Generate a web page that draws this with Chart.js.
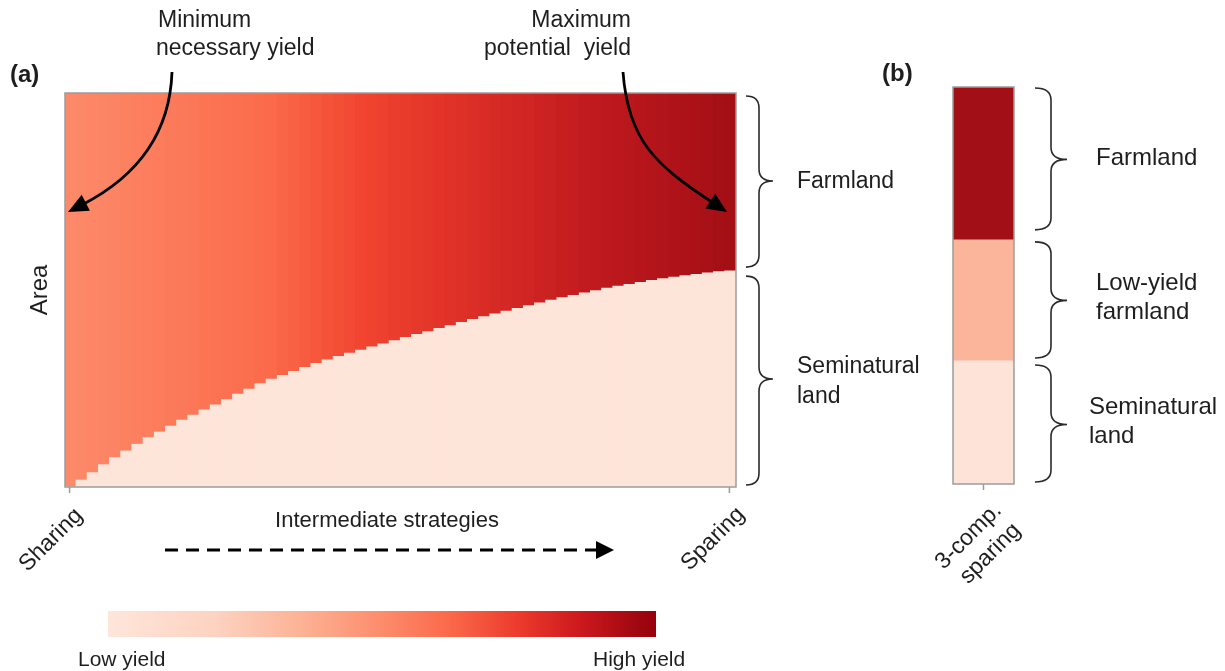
<!DOCTYPE html>
<html><head><meta charset="utf-8">
<script src="https://cdn.jsdelivr.net/npm/chart.js@4/dist/chart.umd.min.js"></script>
<style>
html,body{margin:0;padding:0;background:#fff;}
#wrap{position:relative;width:1225px;height:671px;overflow:hidden;}
canvas{position:absolute;left:0;top:0;}
</style></head><body>
<div id="wrap">
<canvas id="a" width="1225" height="671"></canvas>
<canvas id="b" width="1225" height="671"></canvas>
</div>
<script>
// ---- Data (percent of total area) ----
const seminaturalA = [0, 1.7, 3.6, 5.6, 7.4, 9.1, 10.8, 12.5, 13.9, 15.4, 16.9, 18.2, 19.5, 20.8, 22.1, 23.5, 24.8, 26.2, 27.3, 28.3,
  29.3, 30.3, 31.3, 32.2, 33.1, 33.9, 34.7, 35.5, 36.3, 37.1, 37.9, 38.7, 39.4, 40.2, 40.9, 41.7, 42.5, 43.2, 43.9, 44.6,
  45.3, 46.0, 46.7, 47.4, 48.0, 48.6, 49.2, 49.8, 50.4, 50.9, 51.4, 51.9, 52.4, 52.8, 53.2, 53.6, 53.9, 54.3, 54.6, 54.8];
const strategyLabels = ['Sharing', 'Intermediate strategies', 'Sparing'];
const strategies = seminaturalA.map((_, i) => i === 0 ? strategyLabels[0] : (i === seminaturalA.length - 1 ? strategyLabels[2] : strategyLabels[1] + ' ' + i));
const farmlandA = seminaturalA.map(v => 100 - v);

const panelBLabels = ['3-comp. sparing'];
const seminaturalB = [31];
const lowYieldB = [30.5];
const farmlandB = [38.5];
const colorbarLabels = ['Low yield', 'High yield'];

// ---- Styles ----
const FONT = "'Liberation Sans', Arial, Helvetica, sans-serif";
const TXT = '#1e1e1e';
function hex(c){return [parseInt(c.slice(1,3),16),parseInt(c.slice(3,5),16),parseInt(c.slice(5,7),16)];}
function ramp(stops, t){
  for(let k=0;k<stops.length-1;k++){
    const [t0,c0]=stops[k],[t1,c1]=stops[k+1];
    if(t<=t1||k===stops.length-2){
      const u=Math.max(0,Math.min(1,(t-t0)/(t1-t0)));
      const a=hex(c0),b=hex(c1);
      return 'rgb('+a.map((v,j)=>Math.round(v+(b[j]-v)*u)).join(',')+')';
    }
  }
}
const farmStops=[[0,'#fc8a6a'],[0.3,'#fb6b4b'],[0.45,'#f0432f'],[0.6,'#dd2f27'],[0.8,'#bf191e'],[1,'#a30f15']];
const farmColors = farmlandA.map((_, i) => ramp(farmStops, i/(farmlandA.length-1)));
const barStops=[[0,'#fee6da'],[0.2,'#fdd2c0'],[0.35,'#fcb396'],[0.5,'#fc8c6c'],[0.62,'#fb6a4a'],[0.75,'#ec3a2c'],[0.87,'#c9171d'],[0.97,'#9e0710'],[1,'#99000d']];

function text(ctx, s, x, y, size, opts={}){
  ctx.save();
  ctx.font=(opts.bold?'bold ':'')+size+'px '+FONT;
  ctx.fillStyle=TXT;
  ctx.textAlign=opts.align||'left';
  ctx.textBaseline=opts.base||'middle';
  ctx.translate(x,y);
  if(opts.rot) ctx.rotate(opts.rot);
  ctx.fillText(s,0,0);
  ctx.restore();
}
function brace(ctx, xe, y1, y2, ym, d1=13, d2=27){
  const xm=xe+d1, xt=xe+d2, r=12;
  ctx.save();
  ctx.strokeStyle='#2a2a2a'; ctx.lineWidth=1.6;
  ctx.beginPath();
  ctx.moveTo(xe,y1);
  ctx.quadraticCurveTo(xm,y1,xm,y1+r);
  ctx.lineTo(xm,ym-r);
  ctx.quadraticCurveTo(xm,ym,xt,ym);
  ctx.quadraticCurveTo(xm,ym,xm,ym+r);
  ctx.lineTo(xm,y2-r);
  ctx.quadraticCurveTo(xm,y2,xe,y2);
  ctx.stroke();
  ctx.restore();
}
function curvedArrow(ctx,p0,c1,c2,p3){
  const ang=Math.atan2(p3[1]-c2[1],p3[0]-c2[0]);
  const L=20,W=9;
  const bx=p3[0]-Math.cos(ang)*L*0.8, by=p3[1]-Math.sin(ang)*L*0.8;
  ctx.save();
  ctx.strokeStyle='#000'; ctx.fillStyle='#000'; ctx.lineWidth=2.8;
  ctx.beginPath(); ctx.moveTo(p0[0],p0[1]); ctx.bezierCurveTo(c1[0],c1[1],c2[0],c2[1],bx,by); ctx.stroke();
  ctx.beginPath();
  ctx.moveTo(p3[0],p3[1]);
  ctx.lineTo(p3[0]-Math.cos(ang)*L+Math.sin(ang)*W, p3[1]-Math.sin(ang)*L-Math.cos(ang)*W);
  ctx.lineTo(p3[0]-Math.cos(ang)*L-Math.sin(ang)*W, p3[1]-Math.sin(ang)*L+Math.cos(ang)*W);
  ctx.closePath(); ctx.fill();
  ctx.restore();
}

const annotA = {
  id:'annotA',
  afterDraw(chart){
    const ctx=chart.ctx, ca=chart.chartArea, xs=chart.scales.x, ys=chart.scales.y;
    ctx.save();
    ctx.strokeStyle='#9c9c9c'; ctx.lineWidth=1.5;
    ctx.strokeRect(ca.left, ca.top, ca.right-ca.left, ca.bottom-ca.top);
    [0, strategies.length-1].forEach(i=>{
      const x=xs.getPixelForValue(i)-1;
      ctx.beginPath(); ctx.moveTo(x,ca.bottom); ctx.lineTo(x,ca.bottom+6); ctx.stroke();
    });
    ctx.restore();
    text(ctx,'(a)',10,75,24,{bold:true});
    text(ctx,'Area',40,290,24,{align:'center',rot:-Math.PI/2});
    text(ctx,'Minimum',158,21,23);
    text(ctx,'necessary yield',156,49,23);
    text(ctx,'Maximum',631,21,23,{align:'right'});
    text(ctx,'potential  yield',631,49,23,{align:'right'});
    curvedArrow(ctx,[172,72],[170,130],[140,175],[68,212]);
    curvedArrow(ctx,[623,72],[628,140],[655,165],[727,212]);
    const last=seminaturalA.length-1;
    const yb=ys.getPixelForValue(seminaturalA[last]);
    brace(ctx,746,ca.top+3,yb-4,(ca.top+yb)/2-1);
    brace(ctx,746,yb+5,ca.bottom-2,(yb+ca.bottom)/2);
    text(ctx,'Farmland',797,182,23);
    text(ctx,'Seminatural',797,367,23);
    text(ctx,'land',797,397,23);
    text(ctx,'Sharing',79,512,23,{align:'right',rot:-Math.PI/4});
    text(ctx,'Sparing',741,511,23,{align:'right',rot:-Math.PI/4});
    text(ctx,'Intermediate strategies',387,521,22,{align:'center'});
    ctx.save();
    ctx.strokeStyle='#000'; ctx.fillStyle='#000'; ctx.lineWidth=3;
    ctx.setLineDash([13,8]);
    ctx.beginPath(); ctx.moveTo(165,550); ctx.lineTo(596,550); ctx.stroke();
    ctx.setLineDash([]);
    ctx.beginPath(); ctx.moveTo(596,541); ctx.lineTo(614,550); ctx.lineTo(596,559); ctx.closePath(); ctx.fill();
    ctx.restore();
    ctx.save();
    const g=ctx.createLinearGradient(108,0,656,0);
    barStops.forEach(([t,c])=>g.addColorStop(t,c));
    ctx.fillStyle=g; ctx.fillRect(108,611,548,26);
    ctx.restore();
    text(ctx,colorbarLabels[0],78,660,21);
    text(ctx,colorbarLabels[1],593,660,21);
  }
};

new Chart(document.getElementById('a'), {
  type:'bar',
  data:{labels:strategies, datasets:[
    {label:'Seminatural land', data:seminaturalA, backgroundColor:'#fee5d9', borderWidth:0, inflateAmount:0.6},
    {label:'Farmland', data:farmlandA, backgroundColor:farmColors, borderWidth:0, inflateAmount:0.6}
  ]},
  options:{
    responsive:false, animation:false, devicePixelRatio:1,
    layout:{padding:{left:65, top:93, right:489, bottom:184}},
    plugins:{legend:{display:false}, tooltip:{enabled:false}},
    datasets:{bar:{categoryPercentage:1, barPercentage:1}},
    scales:{
      x:{stacked:true, display:false},
      y:{stacked:true, display:false, min:0, max:100}
    }
  },
  plugins:[annotA]
});

const annotB = {
  id:'annotB',
  afterDraw(chart){
    const ctx=chart.ctx, ca=chart.chartArea, xs=chart.scales.x, ys=chart.scales.y;
    ctx.save();
    ctx.strokeStyle='#9c9c9c'; ctx.lineWidth=1.5;
    ctx.strokeRect(ca.left, ca.top, ca.right-ca.left, ca.bottom-ca.top);
    const x=xs.getPixelForValue(0);
    ctx.beginPath(); ctx.moveTo(x,ca.bottom); ctx.lineTo(x,ca.bottom+6); ctx.stroke();
    ctx.restore();
    text(ctx,'(b)',882,74,24,{bold:true});
    const y1=ys.getPixelForValue(seminaturalB[0]);
    const y2=ys.getPixelForValue(seminaturalB[0]+lowYieldB[0]);
    brace(ctx,1035,ca.top+1,y2-10,(ca.top+y2)/2-4,16,32);
    brace(ctx,1035,y2+2,y1-3,(y2+y1)/2,16,32);
    brace(ctx,1035,y1+4,ca.bottom-2,(y1+ca.bottom)/2+2,16,32);
    text(ctx,'Farmland',1096,158,24);
    text(ctx,'Low-yield',1096,283,24);
    text(ctx,'farmland',1096,312,24);
    text(ctx,'Seminatural',1089,407,24);
    text(ctx,'land',1089,436,24);
    text(ctx,'3-comp.',998,507,23,{align:'right',rot:-Math.PI/4});
    text(ctx,'sparing',1017,527,23,{align:'right',rot:-Math.PI/4});
  }
};

new Chart(document.getElementById('b'), {
  type:'bar',
  data:{labels:panelBLabels, datasets:[
    {label:'Seminatural land', data:seminaturalB, backgroundColor:'#fee3d8', borderWidth:0},
    {label:'Low-yield farmland', data:lowYieldB, backgroundColor:'#fbb59b', borderWidth:0},
    {label:'Farmland', data:farmlandB, backgroundColor:'#a30f16', borderWidth:0}
  ]},
  options:{
    responsive:false, animation:false, devicePixelRatio:1,
    layout:{padding:{left:953, top:87, right:211, bottom:187}},
    plugins:{legend:{display:false}, tooltip:{enabled:false}},
    datasets:{bar:{categoryPercentage:1, barPercentage:1}},
    scales:{
      x:{stacked:true, display:false},
      y:{stacked:true, display:false, min:0, max:100}
    }
  },
  plugins:[annotB]
});
</script>
</body></html>
